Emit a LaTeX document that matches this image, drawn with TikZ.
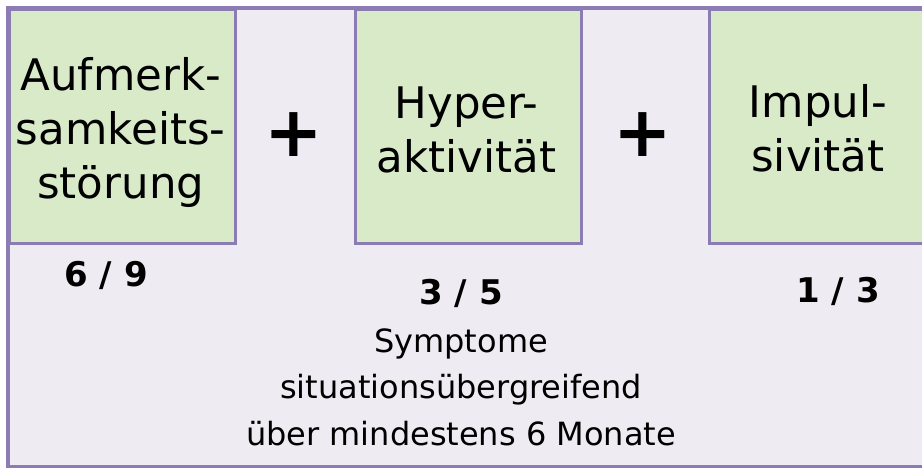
\documentclass[tikz,border=0pt]{standalone}
\usepackage{fontspec}
\setmainfont{DejaVu Sans}
\definecolor{frame}{RGB}{140,124,180}
\definecolor{boxgreen}{RGB}{217,234,200}
\definecolor{bglav}{RGB}{238,235,242}
\tikzset{
  catbox/.style={draw=frame, line width=3pt, fill=boxgreen, anchor=north west, inner sep=0pt,
    minimum height=234pt},
  cattext/.style={align=center, font=\fontsize{43.5}{54}\selectfont, inner sep=0pt},
  plussign/.style={font=\fontsize{70}{70}\selectfont\bfseries, inner sep=0pt},
  countlbl/.style={font=\fontsize{34}{38}\selectfont\bfseries, anchor=base, inner sep=0pt},
  notelbl/.style={font=\fontsize{32}{38}\selectfont, anchor=base, inner sep=0pt}
}
\begin{document}
\begin{tikzpicture}[x=1pt,y=-1pt]
\useasboundingbox (0,0) rectangle (922,468);
\clip (0,0) rectangle (922,468);
\fill[white] (0,0) rectangle (922,468);
\fill[bglav] (8,8) rectangle (940,466.5);
\node[catbox, minimum width=225.5pt] (b1) at (8,8) {};
\node[catbox, minimum width=226pt] (b2) at (353.5,8) {};
\node[catbox, minimum width=220pt] (b3) at (708,8) {};
\draw[frame, line width=3.5pt] (8,8) rectangle (940,466.5);
\node[cattext] (t1) at (120.75,132) {Aufmerk-\\samkeits-\\störung};
\node[cattext] (t2) at (466.5,130) {Hyper-\\aktivität};
\node[cattext] (t3) at (818,128) {Impul-\\sivität};
\node[plussign] (p1) at (294,135) {+};
\node[plussign] (p2) at (643,135) {+};
\node[countlbl] (c1) at (106,287) {6 / 9};
\node[countlbl] (c2) at (461,305) {3 / 5};
\node[countlbl] (c3) at (838,302) {1 / 3};
\node[notelbl] (n1) at (461,352) {Symptome};
\node[notelbl] (n2) at (461,398) {situationsübergreifend};
\node[notelbl] (n3) at (461,445) {über mindestens 6 Monate};
\end{tikzpicture}
\end{document}
